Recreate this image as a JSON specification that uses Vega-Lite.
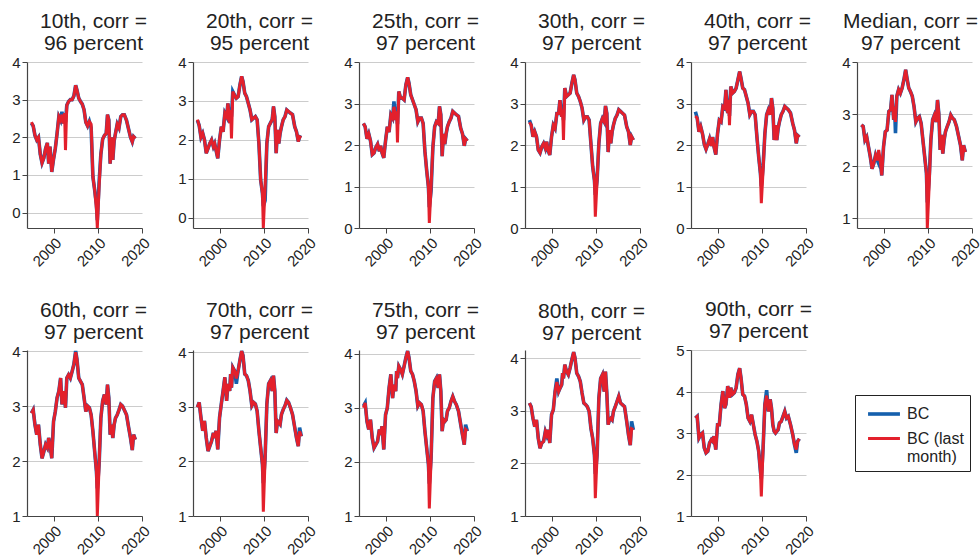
{
"$schema":"https://vega.github.io/schema/vega-lite/v6.json",
"background":"white",
"padding":{"left":11,"top":11,"right":0,"bottom":0},
"data":{"values":[
{"p":"10","t":1995,"bc":2.37,"lm":2.4},{"p":"10","t":1995.4,"bc":2.3,"lm":2.3},{"p":"10","t":1995.8,"bc":2.05,"lm":2.05},{"p":"10","t":1996.2,"bc":1.93,"lm":1.93},{"p":"10","t":1996.6,"bc":2.0,"lm":2.0},{"p":"10","t":1997,"bc":1.55,"lm":1.55},{"p":"10","t":1997.4,"bc":1.32,"lm":1.32},{"p":"10","t":1997.8,"bc":1.45,"lm":1.45},{"p":"10","t":1998.2,"bc":1.7,"lm":1.7},{"p":"10","t":1998.6,"bc":1.85,"lm":1.85},{"p":"10","t":1998.9,"bc":1.3,"lm":1.3},{"p":"10","t":1999.2,"bc":1.75,"lm":1.75},{"p":"10","t":1999.6,"bc":1.08,"lm":1.08},{"p":"10","t":2000,"bc":1.42,"lm":1.42},{"p":"10","t":2000.4,"bc":1.7,"lm":1.7},{"p":"10","t":2000.8,"bc":2.1,"lm":2.1},{"p":"10","t":2001.2,"bc":2.55,"lm":2.55},{"p":"10","t":2001.6,"bc":2.45,"lm":2.45},{"p":"10","t":2001.9,"bc":2.68,"lm":2.6},{"p":"10","t":2002.3,"bc":2.37,"lm":2.37},{"p":"10","t":2002.5,"bc":2.64,"lm":2.64},{"p":"10","t":2002.7,"bc":2.4,"lm":1.66},{"p":"10","t":2003,"bc":2.85,"lm":2.85},{"p":"10","t":2003.4,"bc":2.95,"lm":2.95},{"p":"10","t":2003.8,"bc":3.0,"lm":3.0},{"p":"10","t":2004.2,"bc":3.0,"lm":3.0},{"p":"10","t":2004.6,"bc":3.1,"lm":3.1},{"p":"10","t":2005,"bc":3.38,"lm":3.38},{"p":"10","t":2005.3,"bc":3.25,"lm":3.25},{"p":"10","t":2005.7,"bc":3.04,"lm":3.04},{"p":"10","t":2006.1,"bc":2.95,"lm":2.95},{"p":"10","t":2006.5,"bc":2.88,"lm":2.88},{"p":"10","t":2006.9,"bc":2.73,"lm":2.73},{"p":"10","t":2007.3,"bc":2.4,"lm":2.4},{"p":"10","t":2007.7,"bc":2.3,"lm":2.3},{"p":"10","t":2008.1,"bc":2.42,"lm":2.42},{"p":"10","t":2008.5,"bc":2.25,"lm":2.35},{"p":"10","t":2008.9,"bc":0.95,"lm":0.95},{"p":"10","t":2009.3,"bc":0.6,"lm":0.6},{"p":"10","t":2009.7,"bc":0.2,"lm":0.1},{"p":"10","t":2009.9,"bc":-0.2,"lm":-0.41},{"p":"10","t":2010.3,"bc":0.8,"lm":0.7},{"p":"10","t":2010.7,"bc":1.55,"lm":1.55},{"p":"10","t":2011.1,"bc":1.95,"lm":1.95},{"p":"10","t":2011.5,"bc":2.05,"lm":2.05},{"p":"10","t":2011.9,"bc":2.1,"lm":2.1},{"p":"10","t":2012.2,"bc":2.6,"lm":2.6},{"p":"10","t":2012.5,"bc":2.46,"lm":2.46},{"p":"10","t":2012.8,"bc":1.3,"lm":1.3},{"p":"10","t":2013.1,"bc":2.0,"lm":2.0},{"p":"10","t":2013.4,"bc":1.4,"lm":1.4},{"p":"10","t":2013.7,"bc":1.9,"lm":1.9},{"p":"10","t":2014,"bc":2.1,"lm":2.1},{"p":"10","t":2014.4,"bc":2.35,"lm":2.35},{"p":"10","t":2014.8,"bc":2.25,"lm":2.25},{"p":"10","t":2015.2,"bc":2.55,"lm":2.55},{"p":"10","t":2015.6,"bc":2.6,"lm":2.6},{"p":"10","t":2016,"bc":2.6,"lm":2.6},{"p":"10","t":2016.5,"bc":2.45,"lm":2.45},{"p":"10","t":2017,"bc":2.2,"lm":2.2},{"p":"10","t":2017.4,"bc":2.0,"lm":2.0},{"p":"10","t":2017.8,"bc":1.88,"lm":1.88},{"p":"10","t":2018.1,"bc":2.02,"lm":2.02},{"p":"10","t":2018.5,"bc":1.97,"lm":1.97},

{"p":"20","t":1995,"bc":2.5,"lm":2.52},{"p":"20","t":1995.4,"bc":2.37,"lm":2.37},{"p":"20","t":1995.8,"bc":2.07,"lm":2.07},{"p":"20","t":1996.2,"bc":2.17,"lm":2.17},{"p":"20","t":1996.6,"bc":2.0,"lm":2.0},{"p":"20","t":1997,"bc":1.66,"lm":1.66},{"p":"20","t":1997.4,"bc":1.78,"lm":1.78},{"p":"20","t":1997.8,"bc":1.91,"lm":1.91},{"p":"20","t":1998.2,"bc":2.0,"lm":2.0},{"p":"20","t":1998.6,"bc":1.83,"lm":1.83},{"p":"20","t":1998.9,"bc":1.91,"lm":1.91},{"p":"20","t":1999.2,"bc":1.74,"lm":1.74},{"p":"20","t":1999.6,"bc":1.53,"lm":1.53},{"p":"20","t":2000,"bc":2.0,"lm":2.0},{"p":"20","t":2000.4,"bc":2.34,"lm":2.34},{"p":"20","t":2000.8,"bc":2.21,"lm":2.21},{"p":"20","t":2001.2,"bc":2.69,"lm":2.69},{"p":"20","t":2001.6,"bc":2.6,"lm":2.6},{"p":"20","t":2001.9,"bc":2.94,"lm":2.94},{"p":"20","t":2002.3,"bc":2.43,"lm":2.43},{"p":"20","t":2002.5,"bc":2.77,"lm":2.77},{"p":"20","t":2002.7,"bc":2.6,"lm":2.04},{"p":"20","t":2003,"bc":3.24,"lm":3.24},{"p":"20","t":2003.4,"bc":3.15,"lm":3.15},{"p":"20","t":2003.8,"bc":3.07,"lm":3.07},{"p":"20","t":2004.2,"bc":3.11,"lm":3.11},{"p":"20","t":2004.6,"bc":3.41,"lm":3.41},{"p":"20","t":2005,"bc":3.63,"lm":3.63},{"p":"20","t":2005.3,"bc":3.5,"lm":3.5},{"p":"20","t":2005.7,"bc":3.2,"lm":3.2},{"p":"20","t":2006.1,"bc":3.11,"lm":3.11},{"p":"20","t":2006.5,"bc":2.94,"lm":2.94},{"p":"20","t":2006.9,"bc":2.77,"lm":2.77},{"p":"20","t":2007.3,"bc":2.52,"lm":2.52},{"p":"20","t":2007.7,"bc":2.56,"lm":2.56},{"p":"20","t":2008.1,"bc":2.6,"lm":2.6},{"p":"20","t":2008.5,"bc":2.52,"lm":2.52},{"p":"20","t":2008.9,"bc":1.91,"lm":1.91},{"p":"20","t":2009.3,"bc":0.97,"lm":0.97},{"p":"20","t":2009.7,"bc":0.63,"lm":0.63},{"p":"20","t":2009.9,"bc":0.3,"lm":-0.26},{"p":"20","t":2010.3,"bc":0.45,"lm":0.8},{"p":"20","t":2010.7,"bc":1.91,"lm":1.91},{"p":"20","t":2011.1,"bc":2.34,"lm":2.34},{"p":"20","t":2011.5,"bc":2.43,"lm":2.43},{"p":"20","t":2011.9,"bc":2.52,"lm":2.52},{"p":"20","t":2012.2,"bc":2.86,"lm":2.86},{"p":"20","t":2012.5,"bc":2.6,"lm":2.6},{"p":"20","t":2012.8,"bc":1.66,"lm":1.66},{"p":"20","t":2013.1,"bc":2.26,"lm":2.26},{"p":"20","t":2013.4,"bc":1.91,"lm":1.91},{"p":"20","t":2013.7,"bc":2.17,"lm":2.17},{"p":"20","t":2014,"bc":2.34,"lm":2.34},{"p":"20","t":2014.4,"bc":2.52,"lm":2.52},{"p":"20","t":2014.8,"bc":2.6,"lm":2.6},{"p":"20","t":2015.2,"bc":2.77,"lm":2.77},{"p":"20","t":2015.6,"bc":2.73,"lm":2.73},{"p":"20","t":2016,"bc":2.69,"lm":2.69},{"p":"20","t":2016.5,"bc":2.65,"lm":2.65},{"p":"20","t":2017,"bc":2.34,"lm":2.34},{"p":"20","t":2017.4,"bc":2.21,"lm":2.21},{"p":"20","t":2017.8,"bc":1.96,"lm":1.96},{"p":"20","t":2018.1,"bc":2.08,"lm":2.08},{"p":"20","t":2018.5,"bc":2.06,"lm":2.06},

{"p":"25","t":1995,"bc":2.52,"lm":2.52},{"p":"25","t":1995.4,"bc":2.44,"lm":2.44},{"p":"25","t":1995.8,"bc":2.15,"lm":2.15},{"p":"25","t":1996.2,"bc":2.27,"lm":2.27},{"p":"25","t":1996.6,"bc":2.1,"lm":2.1},{"p":"25","t":1997,"bc":1.77,"lm":1.77},{"p":"25","t":1997.4,"bc":1.81,"lm":1.81},{"p":"25","t":1997.8,"bc":1.94,"lm":1.94},{"p":"25","t":1998.2,"bc":2.02,"lm":2.02},{"p":"25","t":1998.6,"bc":1.85,"lm":1.85},{"p":"25","t":1998.9,"bc":1.98,"lm":1.98},{"p":"25","t":1999.2,"bc":1.81,"lm":1.81},{"p":"25","t":1999.6,"bc":1.69,"lm":1.69},{"p":"25","t":2000,"bc":2.1,"lm":2.1},{"p":"25","t":2000.4,"bc":2.44,"lm":2.44},{"p":"25","t":2000.8,"bc":2.31,"lm":2.31},{"p":"25","t":2001.2,"bc":2.73,"lm":2.73},{"p":"25","t":2001.6,"bc":2.65,"lm":2.65},{"p":"25","t":2001.9,"bc":3.05,"lm":2.92},{"p":"25","t":2002.3,"bc":2.6,"lm":2.6},{"p":"25","t":2002.5,"bc":2.81,"lm":2.81},{"p":"25","t":2002.7,"bc":2.5,"lm":2.06},{"p":"25","t":2003,"bc":3.29,"lm":3.29},{"p":"25","t":2003.4,"bc":3.13,"lm":3.13},{"p":"25","t":2003.8,"bc":3.13,"lm":3.13},{"p":"25","t":2004.2,"bc":3.09,"lm":3.09},{"p":"25","t":2004.6,"bc":3.45,"lm":3.45},{"p":"25","t":2005,"bc":3.63,"lm":3.63},{"p":"25","t":2005.3,"bc":3.49,"lm":3.49},{"p":"25","t":2005.7,"bc":3.21,"lm":3.21},{"p":"25","t":2006.1,"bc":3.09,"lm":3.09},{"p":"25","t":2006.5,"bc":2.97,"lm":2.97},{"p":"25","t":2006.9,"bc":2.85,"lm":2.85},{"p":"25","t":2007.3,"bc":2.56,"lm":2.56},{"p":"25","t":2007.7,"bc":2.65,"lm":2.65},{"p":"25","t":2008.1,"bc":2.65,"lm":2.65},{"p":"25","t":2008.5,"bc":2.52,"lm":2.52},{"p":"25","t":2008.9,"bc":1.85,"lm":1.85},{"p":"25","t":2009.3,"bc":1.39,"lm":1.39},{"p":"25","t":2009.7,"bc":0.98,"lm":0.98},{"p":"25","t":2009.9,"bc":0.5,"lm":0.12},{"p":"25","t":2010.3,"bc":0.9,"lm":1.0},{"p":"25","t":2010.7,"bc":1.94,"lm":1.94},{"p":"25","t":2011.1,"bc":2.44,"lm":2.44},{"p":"25","t":2011.5,"bc":2.56,"lm":2.56},{"p":"25","t":2011.9,"bc":2.52,"lm":2.52},{"p":"25","t":2012.2,"bc":2.93,"lm":2.93},{"p":"25","t":2012.5,"bc":2.73,"lm":2.73},{"p":"25","t":2012.8,"bc":1.73,"lm":1.73},{"p":"25","t":2013.1,"bc":2.27,"lm":2.27},{"p":"25","t":2013.4,"bc":2.02,"lm":2.02},{"p":"25","t":2013.7,"bc":2.27,"lm":2.27},{"p":"25","t":2014,"bc":2.44,"lm":2.44},{"p":"25","t":2014.4,"bc":2.56,"lm":2.56},{"p":"25","t":2014.8,"bc":2.65,"lm":2.65},{"p":"25","t":2015.2,"bc":2.81,"lm":2.81},{"p":"25","t":2015.6,"bc":2.77,"lm":2.77},{"p":"25","t":2016,"bc":2.73,"lm":2.73},{"p":"25","t":2016.5,"bc":2.69,"lm":2.69},{"p":"25","t":2017,"bc":2.4,"lm":2.4},{"p":"25","t":2017.4,"bc":2.27,"lm":2.27},{"p":"25","t":2017.8,"bc":1.98,"lm":1.98},{"p":"25","t":2018.1,"bc":2.15,"lm":2.15},{"p":"25","t":2018.5,"bc":2.1,"lm":2.1},

{"p":"30","t":1995,"bc":2.6,"lm":2.55},{"p":"30","t":1995.4,"bc":2.48,"lm":2.48},{"p":"30","t":1995.8,"bc":2.2,"lm":2.2},{"p":"30","t":1996.2,"bc":2.32,"lm":2.32},{"p":"30","t":1996.6,"bc":2.2,"lm":2.2},{"p":"30","t":1997,"bc":1.88,"lm":1.88},{"p":"30","t":1997.4,"bc":1.81,"lm":1.81},{"p":"30","t":1997.8,"bc":1.96,"lm":1.96},{"p":"30","t":1998.2,"bc":2.04,"lm":2.04},{"p":"30","t":1998.6,"bc":1.92,"lm":1.92},{"p":"30","t":1998.9,"bc":2.08,"lm":2.08},{"p":"30","t":1999.2,"bc":1.88,"lm":1.88},{"p":"30","t":1999.6,"bc":1.76,"lm":1.76},{"p":"30","t":2000,"bc":2.2,"lm":2.2},{"p":"30","t":2000.4,"bc":2.48,"lm":2.48},{"p":"30","t":2000.8,"bc":2.4,"lm":2.4},{"p":"30","t":2001.2,"bc":2.76,"lm":2.76},{"p":"30","t":2001.6,"bc":2.76,"lm":2.76},{"p":"30","t":2001.9,"bc":3.08,"lm":3.08},{"p":"30","t":2002.3,"bc":2.68,"lm":2.68},{"p":"30","t":2002.5,"bc":2.85,"lm":2.85},{"p":"30","t":2002.7,"bc":2.6,"lm":2.12},{"p":"30","t":2003,"bc":3.37,"lm":3.37},{"p":"30","t":2003.4,"bc":3.17,"lm":3.17},{"p":"30","t":2003.8,"bc":3.21,"lm":3.21},{"p":"30","t":2004.2,"bc":3.25,"lm":3.25},{"p":"30","t":2004.6,"bc":3.49,"lm":3.49},{"p":"30","t":2005,"bc":3.69,"lm":3.69},{"p":"30","t":2005.3,"bc":3.57,"lm":3.57},{"p":"30","t":2005.7,"bc":3.25,"lm":3.25},{"p":"30","t":2006.1,"bc":3.17,"lm":3.17},{"p":"30","t":2006.5,"bc":3.05,"lm":3.05},{"p":"30","t":2006.9,"bc":2.89,"lm":2.89},{"p":"30","t":2007.3,"bc":2.6,"lm":2.6},{"p":"30","t":2007.7,"bc":2.68,"lm":2.68},{"p":"30","t":2008.1,"bc":2.68,"lm":2.68},{"p":"30","t":2008.5,"bc":2.6,"lm":2.6},{"p":"30","t":2008.9,"bc":2.04,"lm":2.04},{"p":"30","t":2009.3,"bc":1.48,"lm":1.48},{"p":"30","t":2009.7,"bc":1.15,"lm":1.15},{"p":"30","t":2009.9,"bc":0.8,"lm":0.27},{"p":"30","t":2010.3,"bc":1.15,"lm":1.15},{"p":"30","t":2010.7,"bc":2.04,"lm":2.04},{"p":"30","t":2011.1,"bc":2.52,"lm":2.52},{"p":"30","t":2011.5,"bc":2.64,"lm":2.64},{"p":"30","t":2011.9,"bc":2.56,"lm":2.56},{"p":"30","t":2012.2,"bc":2.94,"lm":2.94},{"p":"30","t":2012.5,"bc":2.76,"lm":2.76},{"p":"30","t":2012.8,"bc":1.83,"lm":1.83},{"p":"30","t":2013.1,"bc":2.36,"lm":2.36},{"p":"30","t":2013.4,"bc":2.04,"lm":2.04},{"p":"30","t":2013.7,"bc":2.32,"lm":2.32},{"p":"30","t":2014,"bc":2.48,"lm":2.48},{"p":"30","t":2014.4,"bc":2.64,"lm":2.64},{"p":"30","t":2014.8,"bc":2.72,"lm":2.72},{"p":"30","t":2015.2,"bc":2.85,"lm":2.85},{"p":"30","t":2015.6,"bc":2.81,"lm":2.81},{"p":"30","t":2016,"bc":2.77,"lm":2.77},{"p":"30","t":2016.5,"bc":2.72,"lm":2.72},{"p":"30","t":2017,"bc":2.44,"lm":2.44},{"p":"30","t":2017.4,"bc":2.32,"lm":2.32},{"p":"30","t":2017.8,"bc":2.0,"lm":2.0},{"p":"30","t":2018.1,"bc":2.2,"lm":2.2},{"p":"30","t":2018.5,"bc":2.12,"lm":2.12},

{"p":"40","t":1995,"bc":2.8,"lm":2.7},{"p":"40","t":1995.4,"bc":2.65,"lm":2.65},{"p":"40","t":1995.8,"bc":2.32,"lm":2.32},{"p":"40","t":1996.2,"bc":2.44,"lm":2.44},{"p":"40","t":1996.6,"bc":2.27,"lm":2.27},{"p":"40","t":1997,"bc":2.02,"lm":2.02},{"p":"40","t":1997.4,"bc":1.9,"lm":1.9},{"p":"40","t":1997.8,"bc":2.02,"lm":2.02},{"p":"40","t":1998.2,"bc":2.15,"lm":2.15},{"p":"40","t":1998.6,"bc":1.98,"lm":1.98},{"p":"40","t":1998.9,"bc":2.19,"lm":2.19},{"p":"40","t":1999.2,"bc":1.96,"lm":1.96},{"p":"40","t":1999.6,"bc":1.77,"lm":1.77},{"p":"40","t":2000,"bc":2.27,"lm":2.27},{"p":"40","t":2000.4,"bc":2.6,"lm":2.6},{"p":"40","t":2000.8,"bc":2.56,"lm":2.56},{"p":"40","t":2001.2,"bc":2.93,"lm":2.93},{"p":"40","t":2001.6,"bc":2.89,"lm":2.89},{"p":"40","t":2001.9,"bc":3.33,"lm":3.33},{"p":"40","t":2002.3,"bc":2.77,"lm":2.77},{"p":"40","t":2002.5,"bc":3.09,"lm":3.09},{"p":"40","t":2002.7,"bc":2.7,"lm":2.48},{"p":"40","t":2003,"bc":3.41,"lm":3.41},{"p":"40","t":2003.4,"bc":3.25,"lm":3.25},{"p":"40","t":2003.8,"bc":3.29,"lm":3.29},{"p":"40","t":2004.2,"bc":3.37,"lm":3.37},{"p":"40","t":2004.6,"bc":3.57,"lm":3.57},{"p":"40","t":2005,"bc":3.77,"lm":3.77},{"p":"40","t":2005.3,"bc":3.61,"lm":3.61},{"p":"40","t":2005.7,"bc":3.37,"lm":3.37},{"p":"40","t":2006.1,"bc":3.33,"lm":3.33},{"p":"40","t":2006.5,"bc":3.17,"lm":3.17},{"p":"40","t":2006.9,"bc":3.01,"lm":3.01},{"p":"40","t":2007.3,"bc":2.73,"lm":2.73},{"p":"40","t":2007.7,"bc":2.81,"lm":2.81},{"p":"40","t":2008.1,"bc":2.81,"lm":2.81},{"p":"40","t":2008.5,"bc":2.73,"lm":2.73},{"p":"40","t":2008.9,"bc":2.2,"lm":2.2},{"p":"40","t":2009.3,"bc":1.72,"lm":1.72},{"p":"40","t":2009.7,"bc":1.31,"lm":1.31},{"p":"40","t":2009.9,"bc":1.0,"lm":0.6},{"p":"40","t":2010.3,"bc":1.48,"lm":1.4},{"p":"40","t":2010.7,"bc":2.27,"lm":2.27},{"p":"40","t":2011.1,"bc":2.73,"lm":2.73},{"p":"40","t":2011.5,"bc":2.85,"lm":2.85},{"p":"40","t":2011.9,"bc":2.73,"lm":2.73},{"p":"40","t":2012.2,"bc":3.13,"lm":3.13},{"p":"40","t":2012.5,"bc":2.89,"lm":2.89},{"p":"40","t":2012.8,"bc":2.12,"lm":2.12},{"p":"40","t":2013.1,"bc":2.48,"lm":2.48},{"p":"40","t":2013.4,"bc":2.12,"lm":2.12},{"p":"40","t":2013.7,"bc":2.4,"lm":2.4},{"p":"40","t":2014,"bc":2.56,"lm":2.56},{"p":"40","t":2014.4,"bc":2.73,"lm":2.73},{"p":"40","t":2014.8,"bc":2.81,"lm":2.81},{"p":"40","t":2015.2,"bc":2.93,"lm":2.93},{"p":"40","t":2015.6,"bc":2.89,"lm":2.89},{"p":"40","t":2016,"bc":2.85,"lm":2.85},{"p":"40","t":2016.5,"bc":2.77,"lm":2.77},{"p":"40","t":2017,"bc":2.52,"lm":2.52},{"p":"40","t":2017.4,"bc":2.36,"lm":2.36},{"p":"40","t":2017.8,"bc":2.04,"lm":2.04},{"p":"40","t":2018.1,"bc":2.23,"lm":2.23},{"p":"40","t":2018.5,"bc":2.19,"lm":2.19},

{"p":"50","t":1995,"bc":2.79,"lm":2.79},{"p":"50","t":1995.4,"bc":2.76,"lm":2.76},{"p":"50","t":1995.8,"bc":2.5,"lm":2.5},{"p":"50","t":1996.2,"bc":2.56,"lm":2.56},{"p":"50","t":1996.6,"bc":2.37,"lm":2.37},{"p":"50","t":1997,"bc":2.18,"lm":2.18},{"p":"50","t":1997.4,"bc":1.95,"lm":1.95},{"p":"50","t":1997.8,"bc":2.05,"lm":2.05},{"p":"50","t":1998.2,"bc":2.21,"lm":2.21},{"p":"50","t":1998.6,"bc":2.11,"lm":2.11},{"p":"50","t":1998.9,"bc":2.05,"lm":2.31},{"p":"50","t":1999.2,"bc":2.15,"lm":2.15},{"p":"50","t":1999.6,"bc":1.82,"lm":1.82},{"p":"50","t":2000,"bc":2.37,"lm":2.37},{"p":"50","t":2000.4,"bc":2.66,"lm":2.66},{"p":"50","t":2000.8,"bc":2.69,"lm":2.69},{"p":"50","t":2001.2,"bc":3.05,"lm":3.05},{"p":"50","t":2001.6,"bc":3.08,"lm":3.08},{"p":"50","t":2001.9,"bc":3.37,"lm":3.37},{"p":"50","t":2002.3,"bc":2.89,"lm":2.89},{"p":"50","t":2002.5,"bc":3.14,"lm":3.14},{"p":"50","t":2002.7,"bc":2.63,"lm":2.85},{"p":"50","t":2003,"bc":3.34,"lm":3.34},{"p":"50","t":2003.4,"bc":3.47,"lm":3.47},{"p":"50","t":2003.8,"bc":3.4,"lm":3.4},{"p":"50","t":2004.2,"bc":3.5,"lm":3.5},{"p":"50","t":2004.6,"bc":3.66,"lm":3.66},{"p":"50","t":2005,"bc":3.85,"lm":3.85},{"p":"50","t":2005.3,"bc":3.69,"lm":3.69},{"p":"50","t":2005.7,"bc":3.5,"lm":3.5},{"p":"50","t":2006.1,"bc":3.43,"lm":3.43},{"p":"50","t":2006.5,"bc":3.34,"lm":3.34},{"p":"50","t":2006.9,"bc":3.14,"lm":3.14},{"p":"50","t":2007.3,"bc":2.85,"lm":2.85},{"p":"50","t":2007.7,"bc":2.92,"lm":2.92},{"p":"50","t":2008.1,"bc":2.95,"lm":2.95},{"p":"50","t":2008.5,"bc":2.82,"lm":2.82},{"p":"50","t":2008.9,"bc":2.5,"lm":2.5},{"p":"50","t":2009.3,"bc":2.18,"lm":2.18},{"p":"50","t":2009.7,"bc":1.86,"lm":1.86},{"p":"50","t":2009.9,"bc":1.3,"lm":0.81},{"p":"50","t":2010.3,"bc":1.73,"lm":1.6},{"p":"50","t":2010.7,"bc":2.5,"lm":2.5},{"p":"50","t":2011.1,"bc":2.89,"lm":2.89},{"p":"50","t":2011.5,"bc":2.98,"lm":2.98},{"p":"50","t":2011.9,"bc":2.85,"lm":2.85},{"p":"50","t":2012.2,"bc":3.27,"lm":3.27},{"p":"50","t":2012.5,"bc":3.01,"lm":3.01},{"p":"50","t":2012.8,"bc":2.31,"lm":2.31},{"p":"50","t":2013.1,"bc":2.6,"lm":2.6},{"p":"50","t":2013.4,"bc":2.24,"lm":2.24},{"p":"50","t":2013.7,"bc":2.5,"lm":2.5},{"p":"50","t":2014,"bc":2.66,"lm":2.66},{"p":"50","t":2014.4,"bc":2.76,"lm":2.76},{"p":"50","t":2014.8,"bc":2.85,"lm":2.85},{"p":"50","t":2015.2,"bc":2.98,"lm":2.98},{"p":"50","t":2015.6,"bc":2.92,"lm":2.92},{"p":"50","t":2016,"bc":2.89,"lm":2.89},{"p":"50","t":2016.5,"bc":2.76,"lm":2.76},{"p":"50","t":2017,"bc":2.56,"lm":2.56},{"p":"50","t":2017.4,"bc":2.4,"lm":2.4},{"p":"50","t":2017.8,"bc":2.11,"lm":2.11},{"p":"50","t":2018.1,"bc":2.4,"lm":2.4},{"p":"50","t":2018.5,"bc":2.27,"lm":2.27},

{"p":"60","t":1995,"bc":2.87,"lm":2.87},{"p":"60","t":1995.4,"bc":2.93,"lm":2.93},{"p":"60","t":1995.8,"bc":2.66,"lm":2.66},{"p":"60","t":1996.2,"bc":2.48,"lm":2.48},{"p":"60","t":1996.6,"bc":2.66,"lm":2.66},{"p":"60","t":1997,"bc":2.3,"lm":2.3},{"p":"60","t":1997.4,"bc":2.05,"lm":2.05},{"p":"60","t":1997.8,"bc":2.17,"lm":2.17},{"p":"60","t":1998.2,"bc":2.3,"lm":2.3},{"p":"60","t":1998.6,"bc":2.24,"lm":2.24},{"p":"60","t":1998.9,"bc":2.42,"lm":2.42},{"p":"60","t":1999.2,"bc":2.3,"lm":2.3},{"p":"60","t":1999.6,"bc":2.05,"lm":2.05},{"p":"60","t":2000,"bc":2.72,"lm":2.72},{"p":"60","t":2000.4,"bc":2.9,"lm":2.9},{"p":"60","t":2000.8,"bc":3.15,"lm":3.15},{"p":"60","t":2001.2,"bc":3.27,"lm":3.27},{"p":"60","t":2001.6,"bc":3.51,"lm":3.51},{"p":"60","t":2001.9,"bc":3.03,"lm":3.03},{"p":"60","t":2002.3,"bc":3.27,"lm":3.27},{"p":"60","t":2002.5,"bc":3.15,"lm":3.15},{"p":"60","t":2002.7,"bc":2.97,"lm":2.97},{"p":"60","t":2003,"bc":3.51,"lm":3.51},{"p":"60","t":2003.4,"bc":3.57,"lm":3.57},{"p":"60","t":2003.8,"bc":3.51,"lm":3.51},{"p":"60","t":2004.2,"bc":3.63,"lm":3.63},{"p":"60","t":2004.6,"bc":3.76,"lm":3.76},{"p":"60","t":2005,"bc":4.0,"lm":3.98},{"p":"60","t":2005.3,"bc":3.85,"lm":3.85},{"p":"60","t":2005.7,"bc":3.51,"lm":3.51},{"p":"60","t":2006.1,"bc":3.45,"lm":3.45},{"p":"60","t":2006.5,"bc":3.39,"lm":3.39},{"p":"60","t":2006.9,"bc":3.15,"lm":3.15},{"p":"60","t":2007.3,"bc":2.9,"lm":2.9},{"p":"60","t":2007.7,"bc":3.0,"lm":3.0},{"p":"60","t":2008.1,"bc":2.97,"lm":2.97},{"p":"60","t":2008.5,"bc":2.84,"lm":2.84},{"p":"60","t":2008.9,"bc":2.54,"lm":2.54},{"p":"60","t":2009.3,"bc":2.17,"lm":2.17},{"p":"60","t":2009.7,"bc":1.81,"lm":1.81},{"p":"60","t":2009.9,"bc":1.5,"lm":1.0},{"p":"60","t":2010.3,"bc":1.93,"lm":1.93},{"p":"60","t":2010.7,"bc":2.78,"lm":2.78},{"p":"60","t":2011.1,"bc":3.09,"lm":3.09},{"p":"60","t":2011.5,"bc":3.21,"lm":3.21},{"p":"60","t":2011.9,"bc":3.03,"lm":3.03},{"p":"60","t":2012.2,"bc":3.39,"lm":3.39},{"p":"60","t":2012.5,"bc":3.15,"lm":3.15},{"p":"60","t":2012.8,"bc":2.48,"lm":2.48},{"p":"60","t":2013.1,"bc":2.66,"lm":2.66},{"p":"60","t":2013.4,"bc":2.42,"lm":2.42},{"p":"60","t":2013.7,"bc":2.66,"lm":2.66},{"p":"60","t":2014,"bc":2.78,"lm":2.78},{"p":"60","t":2014.4,"bc":2.84,"lm":2.84},{"p":"60","t":2014.8,"bc":2.93,"lm":2.93},{"p":"60","t":2015.2,"bc":3.03,"lm":3.03},{"p":"60","t":2015.6,"bc":3.0,"lm":3.0},{"p":"60","t":2016,"bc":2.93,"lm":2.93},{"p":"60","t":2016.5,"bc":2.84,"lm":2.84},{"p":"60","t":2017,"bc":2.6,"lm":2.6},{"p":"60","t":2017.4,"bc":2.42,"lm":2.42},{"p":"60","t":2017.8,"bc":2.2,"lm":2.2},{"p":"60","t":2018.1,"bc":2.48,"lm":2.48},{"p":"60","t":2018.5,"bc":2.39,"lm":2.39},

{"p":"70","t":1995,"bc":2.99,"lm":2.99},{"p":"70","t":1995.4,"bc":3.08,"lm":3.08},{"p":"70","t":1995.8,"bc":2.8,"lm":2.8},{"p":"70","t":1996.2,"bc":2.56,"lm":2.56},{"p":"70","t":1996.6,"bc":2.74,"lm":2.74},{"p":"70","t":1997,"bc":2.43,"lm":2.43},{"p":"70","t":1997.4,"bc":2.19,"lm":2.19},{"p":"70","t":1997.8,"bc":2.28,"lm":2.28},{"p":"70","t":1998.2,"bc":2.37,"lm":2.37},{"p":"70","t":1998.6,"bc":2.52,"lm":2.52},{"p":"70","t":1998.9,"bc":2.43,"lm":2.43},{"p":"70","t":1999.2,"bc":2.56,"lm":2.56},{"p":"70","t":1999.6,"bc":2.22,"lm":2.22},{"p":"70","t":2000,"bc":2.8,"lm":2.8},{"p":"70","t":2000.4,"bc":3.05,"lm":3.05},{"p":"70","t":2000.8,"bc":3.29,"lm":3.29},{"p":"70","t":2001.2,"bc":3.54,"lm":3.54},{"p":"70","t":2001.6,"bc":3.11,"lm":3.11},{"p":"70","t":2001.9,"bc":3.42,"lm":3.42},{"p":"70","t":2002.3,"bc":3.29,"lm":3.29},{"p":"70","t":2002.5,"bc":3.6,"lm":3.6},{"p":"70","t":2002.7,"bc":3.35,"lm":3.35},{"p":"70","t":2003,"bc":3.72,"lm":3.72},{"p":"70","t":2003.4,"bc":3.66,"lm":3.66},{"p":"70","t":2003.8,"bc":3.42,"lm":3.52},{"p":"70","t":2004.2,"bc":3.66,"lm":3.66},{"p":"70","t":2004.6,"bc":3.85,"lm":3.85},{"p":"70","t":2005,"bc":4.02,"lm":4.02},{"p":"70","t":2005.3,"bc":3.94,"lm":3.94},{"p":"70","t":2005.7,"bc":3.6,"lm":3.6},{"p":"70","t":2006.1,"bc":3.57,"lm":3.57},{"p":"70","t":2006.5,"bc":3.48,"lm":3.48},{"p":"70","t":2006.9,"bc":3.29,"lm":3.29},{"p":"70","t":2007.3,"bc":3.02,"lm":3.02},{"p":"70","t":2007.7,"bc":3.08,"lm":3.08},{"p":"70","t":2008.1,"bc":3.05,"lm":3.05},{"p":"70","t":2008.5,"bc":2.92,"lm":2.92},{"p":"70","t":2008.9,"bc":2.56,"lm":2.56},{"p":"70","t":2009.3,"bc":2.25,"lm":2.25},{"p":"70","t":2009.7,"bc":1.94,"lm":1.94},{"p":"70","t":2009.9,"bc":1.6,"lm":1.08},{"p":"70","t":2010.3,"bc":2.06,"lm":2.06},{"p":"70","t":2010.7,"bc":3.05,"lm":3.05},{"p":"70","t":2011.1,"bc":3.42,"lm":3.42},{"p":"70","t":2011.5,"bc":3.48,"lm":3.48},{"p":"70","t":2011.9,"bc":3.29,"lm":3.29},{"p":"70","t":2012.2,"bc":3.57,"lm":3.57},{"p":"70","t":2012.5,"bc":3.29,"lm":3.29},{"p":"70","t":2012.8,"bc":2.52,"lm":2.52},{"p":"70","t":2013.1,"bc":2.74,"lm":2.74},{"p":"70","t":2013.4,"bc":2.71,"lm":2.71},{"p":"70","t":2013.7,"bc":2.68,"lm":2.68},{"p":"70","t":2014,"bc":2.86,"lm":2.86},{"p":"70","t":2014.4,"bc":2.95,"lm":2.95},{"p":"70","t":2014.8,"bc":3.02,"lm":3.02},{"p":"70","t":2015.2,"bc":3.12,"lm":3.12},{"p":"70","t":2015.6,"bc":3.08,"lm":3.08},{"p":"70","t":2016,"bc":2.99,"lm":2.99},{"p":"70","t":2016.5,"bc":2.86,"lm":2.86},{"p":"70","t":2017,"bc":2.62,"lm":2.62},{"p":"70","t":2017.4,"bc":2.43,"lm":2.43},{"p":"70","t":2017.8,"bc":2.28,"lm":2.28},{"p":"70","t":2018.1,"bc":2.62,"lm":2.55},{"p":"70","t":2018.5,"bc":2.46,"lm":2.46},

{"p":"75","t":1995,"bc":3.03,"lm":3.0},{"p":"75","t":1995.4,"bc":3.09,"lm":3.09},{"p":"75","t":1995.8,"bc":2.75,"lm":2.75},{"p":"75","t":1996.2,"bc":2.6,"lm":2.6},{"p":"75","t":1996.6,"bc":2.78,"lm":2.78},{"p":"75","t":1997,"bc":2.44,"lm":2.44},{"p":"75","t":1997.4,"bc":2.26,"lm":2.26},{"p":"75","t":1997.8,"bc":2.32,"lm":2.32},{"p":"75","t":1998.2,"bc":2.38,"lm":2.38},{"p":"75","t":1998.6,"bc":2.6,"lm":2.6},{"p":"75","t":1998.9,"bc":2.5,"lm":2.5},{"p":"75","t":1999.2,"bc":2.66,"lm":2.66},{"p":"75","t":1999.6,"bc":2.23,"lm":2.23},{"p":"75","t":2000,"bc":2.87,"lm":2.87},{"p":"75","t":2000.4,"bc":3.0,"lm":3.0},{"p":"75","t":2000.8,"bc":3.37,"lm":3.37},{"p":"75","t":2001.2,"bc":3.62,"lm":3.62},{"p":"75","t":2001.6,"bc":3.18,"lm":3.18},{"p":"75","t":2001.9,"bc":3.43,"lm":3.43},{"p":"75","t":2002.3,"bc":3.31,"lm":3.31},{"p":"75","t":2002.5,"bc":3.68,"lm":3.68},{"p":"75","t":2002.7,"bc":3.55,"lm":3.55},{"p":"75","t":2003,"bc":3.77,"lm":3.77},{"p":"75","t":2003.4,"bc":3.71,"lm":3.71},{"p":"75","t":2003.8,"bc":3.62,"lm":3.62},{"p":"75","t":2004.2,"bc":3.77,"lm":3.77},{"p":"75","t":2004.6,"bc":3.93,"lm":3.93},{"p":"75","t":2005,"bc":4.05,"lm":4.05},{"p":"75","t":2005.3,"bc":3.93,"lm":3.93},{"p":"75","t":2005.7,"bc":3.68,"lm":3.68},{"p":"75","t":2006.1,"bc":3.62,"lm":3.62},{"p":"75","t":2006.5,"bc":3.49,"lm":3.49},{"p":"75","t":2006.9,"bc":3.31,"lm":3.31},{"p":"75","t":2007.3,"bc":3.03,"lm":3.03},{"p":"75","t":2007.7,"bc":3.09,"lm":3.09},{"p":"75","t":2008.1,"bc":3.06,"lm":3.06},{"p":"75","t":2008.5,"bc":2.94,"lm":2.94},{"p":"75","t":2008.9,"bc":2.57,"lm":2.57},{"p":"75","t":2009.3,"bc":2.26,"lm":2.26},{"p":"75","t":2009.7,"bc":1.95,"lm":1.95},{"p":"75","t":2009.9,"bc":1.6,"lm":1.14},{"p":"75","t":2010.3,"bc":2.07,"lm":2.07},{"p":"75","t":2010.7,"bc":3.18,"lm":3.18},{"p":"75","t":2011.1,"bc":3.49,"lm":3.49},{"p":"75","t":2011.5,"bc":3.55,"lm":3.55},{"p":"75","t":2011.9,"bc":3.37,"lm":3.37},{"p":"75","t":2012.2,"bc":3.62,"lm":3.62},{"p":"75","t":2012.5,"bc":3.31,"lm":3.31},{"p":"75","t":2012.8,"bc":2.57,"lm":2.57},{"p":"75","t":2013.1,"bc":2.78,"lm":2.78},{"p":"75","t":2013.4,"bc":2.75,"lm":2.75},{"p":"75","t":2013.7,"bc":2.78,"lm":2.78},{"p":"75","t":2014,"bc":2.94,"lm":2.94},{"p":"75","t":2014.4,"bc":3.0,"lm":3.0},{"p":"75","t":2014.8,"bc":3.12,"lm":3.12},{"p":"75","t":2015.2,"bc":3.21,"lm":3.21},{"p":"75","t":2015.6,"bc":3.12,"lm":3.12},{"p":"75","t":2016,"bc":3.06,"lm":3.06},{"p":"75","t":2016.5,"bc":2.94,"lm":2.94},{"p":"75","t":2017,"bc":2.69,"lm":2.69},{"p":"75","t":2017.4,"bc":2.5,"lm":2.5},{"p":"75","t":2017.8,"bc":2.32,"lm":2.32},{"p":"75","t":2018.1,"bc":2.69,"lm":2.6},{"p":"75","t":2018.5,"bc":2.57,"lm":2.57},

{"p":"80","t":1995,"bc":3.15,"lm":3.15},{"p":"80","t":1995.4,"bc":3.08,"lm":3.08},{"p":"80","t":1995.8,"bc":2.86,"lm":2.86},{"p":"80","t":1996.2,"bc":2.7,"lm":2.7},{"p":"80","t":1996.6,"bc":2.83,"lm":2.83},{"p":"80","t":1997,"bc":2.48,"lm":2.48},{"p":"80","t":1997.4,"bc":2.29,"lm":2.29},{"p":"80","t":1997.8,"bc":2.39,"lm":2.39},{"p":"80","t":1998.2,"bc":2.42,"lm":2.42},{"p":"80","t":1998.6,"bc":2.61,"lm":2.61},{"p":"80","t":1998.9,"bc":2.54,"lm":2.54},{"p":"80","t":1999.2,"bc":2.64,"lm":2.64},{"p":"80","t":1999.6,"bc":2.39,"lm":2.39},{"p":"80","t":2000,"bc":2.93,"lm":2.93},{"p":"80","t":2000.4,"bc":3.02,"lm":3.02},{"p":"80","t":2000.8,"bc":3.37,"lm":3.37},{"p":"80","t":2001.2,"bc":3.62,"lm":3.55},{"p":"80","t":2001.6,"bc":3.37,"lm":3.37},{"p":"80","t":2001.9,"bc":3.43,"lm":3.43},{"p":"80","t":2002.3,"bc":3.5,"lm":3.5},{"p":"80","t":2002.5,"bc":3.72,"lm":3.72},{"p":"80","t":2002.7,"bc":3.62,"lm":3.62},{"p":"80","t":2003,"bc":3.88,"lm":3.88},{"p":"80","t":2003.4,"bc":3.75,"lm":3.75},{"p":"80","t":2003.8,"bc":3.69,"lm":3.69},{"p":"80","t":2004.2,"bc":3.82,"lm":3.82},{"p":"80","t":2004.6,"bc":3.98,"lm":3.98},{"p":"80","t":2005,"bc":4.12,"lm":4.12},{"p":"80","t":2005.3,"bc":4.01,"lm":4.01},{"p":"80","t":2005.7,"bc":3.72,"lm":3.72},{"p":"80","t":2006.1,"bc":3.66,"lm":3.66},{"p":"80","t":2006.5,"bc":3.56,"lm":3.56},{"p":"80","t":2006.9,"bc":3.34,"lm":3.34},{"p":"80","t":2007.3,"bc":3.15,"lm":3.15},{"p":"80","t":2007.7,"bc":3.12,"lm":3.12},{"p":"80","t":2008.1,"bc":3.08,"lm":3.08},{"p":"80","t":2008.5,"bc":2.99,"lm":2.99},{"p":"80","t":2008.9,"bc":2.67,"lm":2.67},{"p":"80","t":2009.3,"bc":2.48,"lm":2.48},{"p":"80","t":2009.7,"bc":2.16,"lm":2.16},{"p":"80","t":2009.9,"bc":1.8,"lm":1.34},{"p":"80","t":2010.3,"bc":2.16,"lm":2.16},{"p":"80","t":2010.7,"bc":3.24,"lm":3.24},{"p":"80","t":2011.1,"bc":3.62,"lm":3.62},{"p":"80","t":2011.5,"bc":3.69,"lm":3.69},{"p":"80","t":2011.9,"bc":3.37,"lm":3.37},{"p":"80","t":2012.2,"bc":3.75,"lm":3.75},{"p":"80","t":2012.5,"bc":3.34,"lm":3.34},{"p":"80","t":2012.8,"bc":2.74,"lm":2.74},{"p":"80","t":2013.1,"bc":2.83,"lm":2.83},{"p":"80","t":2013.4,"bc":2.86,"lm":2.86},{"p":"80","t":2013.7,"bc":2.83,"lm":2.83},{"p":"80","t":2014,"bc":2.99,"lm":2.99},{"p":"80","t":2014.4,"bc":3.08,"lm":3.08},{"p":"80","t":2014.8,"bc":3.18,"lm":3.18},{"p":"80","t":2015.2,"bc":3.28,"lm":3.28},{"p":"80","t":2015.6,"bc":3.15,"lm":3.15},{"p":"80","t":2016,"bc":3.12,"lm":3.12},{"p":"80","t":2016.5,"bc":3.08,"lm":3.08},{"p":"80","t":2017,"bc":2.8,"lm":2.8},{"p":"80","t":2017.4,"bc":2.54,"lm":2.54},{"p":"80","t":2017.8,"bc":2.35,"lm":2.35},{"p":"80","t":2018.1,"bc":2.8,"lm":2.66},{"p":"80","t":2018.5,"bc":2.64,"lm":2.64},

{"p":"90","t":1995,"bc":3.36,"lm":3.36},{"p":"90","t":1995.4,"bc":3.4,"lm":3.4},{"p":"90","t":1995.8,"bc":2.88,"lm":2.88},{"p":"90","t":1996.2,"bc":2.96,"lm":2.96},{"p":"90","t":1996.6,"bc":3.0,"lm":3.0},{"p":"90","t":1997,"bc":2.64,"lm":2.64},{"p":"90","t":1997.4,"bc":2.52,"lm":2.52},{"p":"90","t":1997.8,"bc":2.56,"lm":2.56},{"p":"90","t":1998.2,"bc":2.76,"lm":2.76},{"p":"90","t":1998.6,"bc":2.84,"lm":2.84},{"p":"90","t":1998.9,"bc":2.8,"lm":2.8},{"p":"90","t":1999.2,"bc":2.92,"lm":2.92},{"p":"90","t":1999.6,"bc":2.6,"lm":2.6},{"p":"90","t":2000,"bc":3.2,"lm":3.2},{"p":"90","t":2000.4,"bc":3.2,"lm":3.2},{"p":"90","t":2000.8,"bc":3.69,"lm":3.69},{"p":"90","t":2001.2,"bc":4.01,"lm":4.01},{"p":"90","t":2001.6,"bc":3.6,"lm":3.6},{"p":"90","t":2001.9,"bc":3.69,"lm":3.69},{"p":"90","t":2002.3,"bc":4.13,"lm":4.13},{"p":"90","t":2002.5,"bc":4.01,"lm":4.01},{"p":"90","t":2002.7,"bc":3.85,"lm":3.85},{"p":"90","t":2003,"bc":4.09,"lm":4.09},{"p":"90","t":2003.4,"bc":3.93,"lm":3.93},{"p":"90","t":2003.8,"bc":3.97,"lm":3.97},{"p":"90","t":2004.2,"bc":4.09,"lm":4.09},{"p":"90","t":2004.6,"bc":4.41,"lm":4.41},{"p":"90","t":2005,"bc":4.56,"lm":4.56},{"p":"90","t":2005.3,"bc":4.33,"lm":4.33},{"p":"90","t":2005.7,"bc":3.93,"lm":3.93},{"p":"90","t":2006.1,"bc":3.89,"lm":3.89},{"p":"90","t":2006.5,"bc":3.69,"lm":3.69},{"p":"90","t":2006.9,"bc":3.36,"lm":3.36},{"p":"90","t":2007.3,"bc":3.28,"lm":3.28},{"p":"90","t":2007.7,"bc":3.44,"lm":3.44},{"p":"90","t":2008.1,"bc":3.2,"lm":3.2},{"p":"90","t":2008.5,"bc":2.96,"lm":2.96},{"p":"90","t":2008.9,"bc":2.8,"lm":2.8},{"p":"90","t":2009.3,"bc":2.56,"lm":2.56},{"p":"90","t":2009.7,"bc":2.07,"lm":2.07},{"p":"90","t":2009.9,"bc":1.9,"lm":1.47},{"p":"90","t":2010.3,"bc":2.64,"lm":2.64},{"p":"90","t":2010.7,"bc":3.69,"lm":3.69},{"p":"90","t":2011.1,"bc":4.03,"lm":3.9},{"p":"90","t":2011.5,"bc":3.52,"lm":3.52},{"p":"90","t":2011.9,"bc":3.81,"lm":3.81},{"p":"90","t":2012.2,"bc":3.6,"lm":3.6},{"p":"90","t":2012.5,"bc":3.2,"lm":3.2},{"p":"90","t":2012.8,"bc":3.04,"lm":3.04},{"p":"90","t":2013.1,"bc":3.0,"lm":3.0},{"p":"90","t":2013.4,"bc":3.04,"lm":3.04},{"p":"90","t":2013.7,"bc":3.08,"lm":3.08},{"p":"90","t":2014,"bc":3.24,"lm":3.24},{"p":"90","t":2014.4,"bc":3.28,"lm":3.28},{"p":"90","t":2014.8,"bc":3.4,"lm":3.4},{"p":"90","t":2015.2,"bc":3.52,"lm":3.52},{"p":"90","t":2015.6,"bc":3.36,"lm":3.36},{"p":"90","t":2016,"bc":3.4,"lm":3.4},{"p":"90","t":2016.5,"bc":3.2,"lm":3.2},{"p":"90","t":2017,"bc":2.96,"lm":2.96},{"p":"90","t":2017.4,"bc":2.72,"lm":2.72},{"p":"90","t":2017.8,"bc":2.52,"lm":2.6},{"p":"90","t":2018.1,"bc":2.8,"lm":2.8},{"p":"90","t":2018.5,"bc":2.86,"lm":2.86}
]},
"vconcat":[
{"hconcat":[
{"width":115,"height":166,"title":{"text":["10th, corr =","96 percent"],"dx":9},"transform":[{"filter":"datum.p === '10'"},{"fold":["bc","lm"],"as":["s","v"]}],"mark":{"type":"line"},"encoding":{"x":{"field":"t","type":"quantitative","title":null,"scale":{"domain":[1994,2020],"nice":false,"zero":false},"axis":{"values":[2000,2010,2020],"format":"d"}},"y":{"field":"v","type":"quantitative","title":null,"scale":{"domain":[-0.41,4],"nice":false,"zero":false},"axis":{"values":[0,1,2,3,4]}},"color":{"field":"s","type":"nominal","scale":{"domain":["bc","lm"],"range":["#1560ad","#e3202c"]},"legend":{"title":null,"orient":"none","legendX":828,"legendY":333,"labelExpr":"datum.value === 'lm' ? ['BC (last', 'month)'] : 'BC'"}},"strokeWidth":{"field":"s","type":"nominal","scale":{"domain":["bc","lm"],"range":[3.6,3]},"legend":null}}},
{"width":115,"height":166,"title":{"text":["20th, corr =","95 percent"],"dx":9},"transform":[{"filter":"datum.p === '20'"},{"fold":["bc","lm"],"as":["s","v"]}],"mark":{"type":"line"},"encoding":{"x":{"field":"t","type":"quantitative","title":null,"scale":{"domain":[1994,2020],"nice":false,"zero":false},"axis":{"values":[2000,2010,2020],"format":"d"}},"y":{"field":"v","type":"quantitative","title":null,"scale":{"domain":[-0.26,4],"nice":false,"zero":false},"axis":{"values":[0,1,2,3,4]}},"color":{"field":"s","type":"nominal"},"strokeWidth":{"field":"s","type":"nominal","legend":null}}},
{"width":115,"height":166,"title":{"text":["25th, corr =","97 percent"],"dx":9},"transform":[{"filter":"datum.p === '25'"},{"fold":["bc","lm"],"as":["s","v"]}],"mark":{"type":"line"},"encoding":{"x":{"field":"t","type":"quantitative","title":null,"scale":{"domain":[1994,2020],"nice":false,"zero":false},"axis":{"values":[2000,2010,2020],"format":"d"}},"y":{"field":"v","type":"quantitative","title":null,"scale":{"domain":[0,4],"nice":false,"zero":false},"axis":{"values":[0,1,2,3,4]}},"color":{"field":"s","type":"nominal"},"strokeWidth":{"field":"s","type":"nominal","legend":null}}},
{"width":115,"height":166,"title":{"text":["30th, corr =","97 percent"],"dx":9},"transform":[{"filter":"datum.p === '30'"},{"fold":["bc","lm"],"as":["s","v"]}],"mark":{"type":"line"},"encoding":{"x":{"field":"t","type":"quantitative","title":null,"scale":{"domain":[1994,2020],"nice":false,"zero":false},"axis":{"values":[2000,2010,2020],"format":"d"}},"y":{"field":"v","type":"quantitative","title":null,"scale":{"domain":[0,4],"nice":false,"zero":false},"axis":{"values":[0,1,2,3,4]}},"color":{"field":"s","type":"nominal"},"strokeWidth":{"field":"s","type":"nominal","legend":null}}},
{"width":115,"height":166,"title":{"text":["40th, corr =","97 percent"],"dx":9},"transform":[{"filter":"datum.p === '40'"},{"fold":["bc","lm"],"as":["s","v"]}],"mark":{"type":"line"},"encoding":{"x":{"field":"t","type":"quantitative","title":null,"scale":{"domain":[1994,2020],"nice":false,"zero":false},"axis":{"values":[2000,2010,2020],"format":"d"}},"y":{"field":"v","type":"quantitative","title":null,"scale":{"domain":[0,4],"nice":false,"zero":false},"axis":{"values":[0,1,2,3,4]}},"color":{"field":"s","type":"nominal"},"strokeWidth":{"field":"s","type":"nominal","legend":null}}},
{"width":115,"height":166,"title":{"text":["Median, corr =","97 percent"],"dx":-4},"transform":[{"filter":"datum.p === '50'"},{"fold":["bc","lm"],"as":["s","v"]}],"mark":{"type":"line"},"encoding":{"x":{"field":"t","type":"quantitative","title":null,"scale":{"domain":[1994,2020],"nice":false,"zero":false},"axis":{"values":[2000,2010,2020],"format":"d"}},"y":{"field":"v","type":"quantitative","title":null,"scale":{"domain":[0.81,4],"nice":false,"zero":false},"axis":{"values":[1,2,3,4]}},"color":{"field":"s","type":"nominal"},"strokeWidth":{"field":"s","type":"nominal","legend":null}}}
],"spacing":24},
{"hconcat":[
{"width":115,"height":166,"title":{"text":["60th, corr =","97 percent"],"dx":9},"transform":[{"filter":"datum.p === '60'"},{"fold":["bc","lm"],"as":["s","v"]}],"mark":{"type":"line"},"encoding":{"x":{"field":"t","type":"quantitative","title":null,"scale":{"domain":[1994,2020],"nice":false,"zero":false},"axis":{"values":[2000,2010,2020],"format":"d"}},"y":{"field":"v","type":"quantitative","title":null,"scale":{"domain":[1,4.02],"nice":false,"zero":false},"axis":{"values":[1,2,3,4]}},"color":{"field":"s","type":"nominal"},"strokeWidth":{"field":"s","type":"nominal","legend":null}}},
{"width":115,"height":166,"title":{"text":["70th, corr =","97 percent"],"dx":9},"transform":[{"filter":"datum.p === '70'"},{"fold":["bc","lm"],"as":["s","v"]}],"mark":{"type":"line"},"encoding":{"x":{"field":"t","type":"quantitative","title":null,"scale":{"domain":[1994,2020],"nice":false,"zero":false},"axis":{"values":[2000,2010,2020],"format":"d"}},"y":{"field":"v","type":"quantitative","title":null,"scale":{"domain":[1,4.04],"nice":false,"zero":false},"axis":{"values":[1,2,3,4]}},"color":{"field":"s","type":"nominal"},"strokeWidth":{"field":"s","type":"nominal","legend":null}}},
{"width":115,"height":166,"title":{"text":["75th, corr =","97 percent"],"dx":9},"transform":[{"filter":"datum.p === '75'"},{"fold":["bc","lm"],"as":["s","v"]}],"mark":{"type":"line"},"encoding":{"x":{"field":"t","type":"quantitative","title":null,"scale":{"domain":[1994,2020],"nice":false,"zero":false},"axis":{"values":[2000,2010,2020],"format":"d"}},"y":{"field":"v","type":"quantitative","title":null,"scale":{"domain":[1,4.07],"nice":false,"zero":false},"axis":{"values":[1,2,3,4]}},"color":{"field":"s","type":"nominal"},"strokeWidth":{"field":"s","type":"nominal","legend":null}}},
{"width":115,"height":166,"title":{"text":["80th, corr =","97 percent"],"dx":9},"transform":[{"filter":"datum.p === '80'"},{"fold":["bc","lm"],"as":["s","v"]}],"mark":{"type":"line"},"encoding":{"x":{"field":"t","type":"quantitative","title":null,"scale":{"domain":[1994,2020],"nice":false,"zero":false},"axis":{"values":[2000,2010,2020],"format":"d"}},"y":{"field":"v","type":"quantitative","title":null,"scale":{"domain":[1,4.16],"nice":false,"zero":false},"axis":{"values":[1,2,3,4]}},"color":{"field":"s","type":"nominal"},"strokeWidth":{"field":"s","type":"nominal","legend":null}}},
{"width":115,"height":166,"title":{"text":["90th, corr =","97 percent"],"dx":10},"transform":[{"filter":"datum.p === '90'"},{"fold":["bc","lm"],"as":["s","v"]}],"mark":{"type":"line"},"encoding":{"x":{"field":"t","type":"quantitative","title":null,"scale":{"domain":[1994,2020],"nice":false,"zero":false},"axis":{"values":[2000,2010,2020],"format":"d"}},"y":{"field":"v","type":"quantitative","title":null,"scale":{"domain":[1,5],"nice":false,"zero":false},"axis":{"values":[1,2,3,4,5]}},"color":{"field":"s","type":"nominal"},"strokeWidth":{"field":"s","type":"nominal","legend":null}}}
],"spacing":24}
],
"spacing":29,
"resolve":{"scale":{"x":"independent","y":"independent"}},
"config":{
"view":{"stroke":null},
"font":"Liberation Sans",
"title":{"fontSize":21,"fontWeight":"normal","color":"#222222","lineHeight":22,"anchor":"middle","offset":1},
"axis":{"labelFont":"Liberation Sans","labelFontSize":15,"labelColor":"#222222","domainColor":"#444444","tickColor":"#444444","tickSize":5,"labelPadding":2,"gridColor":"#cccccc","gridWidth":1,"domainWidth":1.2},
"axisY":{"grid":true},
"axisX":{"grid":false,"labelAngle":-45},
"legend":{"labelFont":"Liberation Sans","labelFontSize":16,"labelColor":"#222222","strokeColor":"#222222","fillColor":"white","padding":6,"symbolType":"M-1.45,0H1.45","symbolSize":484,"symbolOffset":10,"symbolStrokeWidth":3,"labelOffset":10,"rowPadding":4,"labelLimit":200}
}
}
